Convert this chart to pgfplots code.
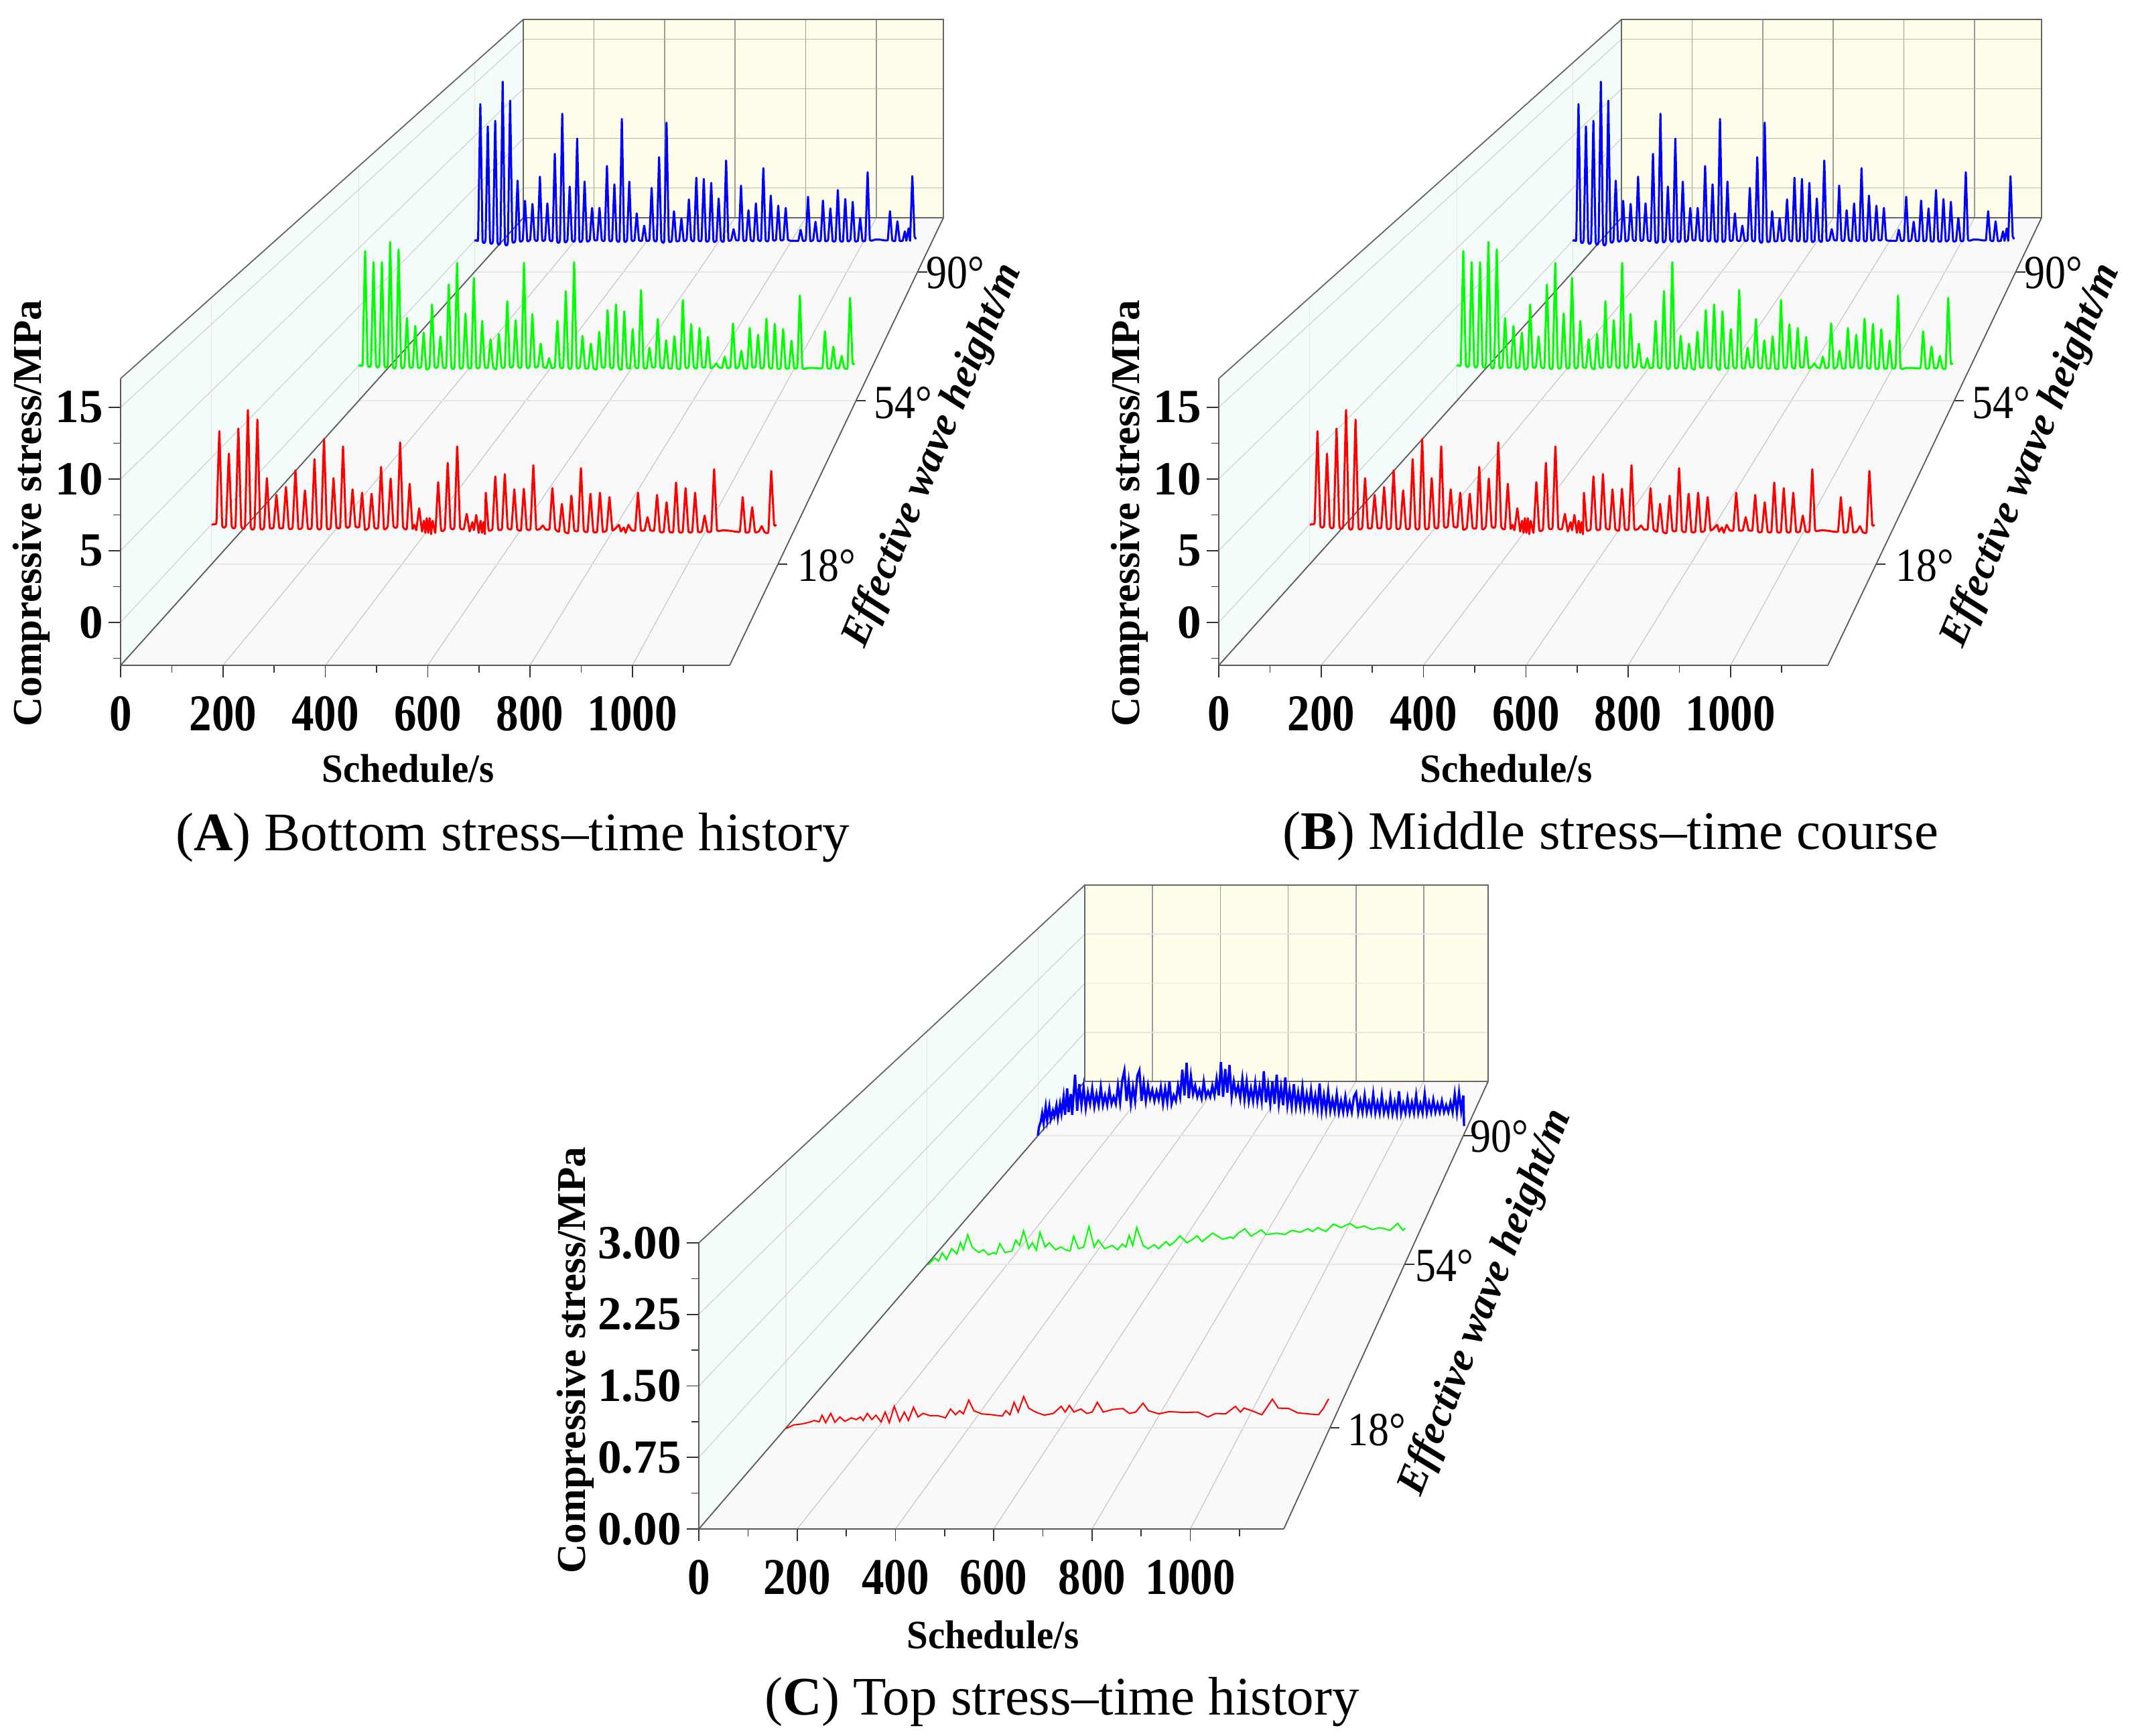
\documentclass[border=0pt]{standalone}
\usepackage{fontspec}
\setmainfont{Liberation Serif}
\newfontfamily\xtickfont[FakeStretch=0.87]{Liberation Serif}
\newfontfamily\labfont[FakeStretch=0.95]{Liberation Serif}
\usepackage{pgfplots}
\usepackage{pgfplotstable}
\pgfplotsset{compat=1.18}

\definecolor{floorc}{HTML}{F9F9F9}
\definecolor{wallc}{HTML}{F5FCFC}
\definecolor{backc}{HTML}{FEFEEA}

% panels A and B show practically the same records
\pgfplotstableread[row sep=\\]{t s\\
0 0\\5 0.05\\10 0.2\\16 7.02\\22 -0.05\\30 -0.05\\36 5.34\\42 -0.1\\50 -0.1\\56 7.22\\62 -0.1\\70 -0.1\\76 8.61\\82 -0.15\\90 -0.15\\96 7.89\\102 -0.2\\
110 -0.2\\116 3.5\\122 -0.2\\130 -0.2\\136 2.24\\142 -0.2\\150 -0.2\\156 2.83\\162 -0.25\\170 -0.2\\176 4.09\\182 -0.25\\190 -0.2\\196 2.58\\202 -0.25\\
210 -0.2\\216 4.92\\222 -0.2\\230 -0.2\\236 6.43\\242 -0.2\\250 -0.2\\256 3.5\\262 -0.15\\270 -0.15\\276 5.88\\282 -0.1\\290 -0.1\\296 2.66\\302 -0.1\\
310 -0.15\\316 2.41\\322 -0.35\\330 -0.2\\336 2.33\\342 -0.2\\350 -0.2\\356 4.34\\362 -0.3\\370 -0.1\\376 3.47\\382 -0.1\\390 -0.1\\396 6.18\\402 -0.1\\
410 -0.3\\416 3.08\\422 -0.3\\426 0\\430 -0.4\\436 1.24\\442 -0.5\\446 0.3\\449 -0.6\\452 0.5\\455 -0.6\\458 0.5\\461 -0.7\\464 0.3\\470 -0.6\\476 3.2\\482 -0.4\\
490 -0.3\\496 4.64\\502 -0.2\\510 -0.2\\516 5.88\\522 -0.2\\530 -0.3\\536 0.82\\542 -0.5\\548 0.2\\551 -0.4\\556 0.74\\561 -0.6\\565 0.3\\568 -0.6\\571 0.2\\574 -0.7\\
576 2.41\\582 -0.4\\590 -0.3\\596 3.63\\602 -0.3\\610 -0.3\\616 3.8\\622 -0.2\\630 -0.3\\636 2.66\\642 -0.3\\650 -0.4\\656 2.7\\662 -0.3\\670 -0.3\\676 4.47\\682 -0.3\\
690 -0.3\\696 -0.05\\702 -0.35\\710 -0.3\\716 2.75\\722 -0.3\\730 -0.5\\736 1.57\\742 -0.5\\750 -0.6\\756 2.19\\762 -0.4\\770 -0.4\\776 4.25\\782 -0.4\\
790 -0.5\\796 2.33\\802 -0.5\\810 -0.5\\816 2.41\\822 -0.5\\830 -0.4\\836 2.08\\842 -0.4\\848 -0.3\\856 0\\860 -0.5\\866 -0.2\\870 -0.6\\876 0\\882 -0.4\\
890 -0.4\\896 2.41\\902 -0.4\\910 -0.4\\916 0.57\\922 -0.4\\930 -0.4\\936 2.24\\942 -0.5\\950 -0.5\\956 1.69\\962 -0.5\\970 -0.5\\976 3.17\\982 -0.5\\
990 -0.5\\996 2.75\\1002 -0.5\\1010 -0.5\\1016 2.41\\1022 -0.5\\1030 -0.5\\1036 0.69\\1042 -0.5\\1050 -0.45\\1056 4.17\\1062 -0.4\\1075 -0.4\\1090 -0.45\\
1110 -0.5\\1116 2.08\\1122 -0.55\\1130 -0.5\\1136 1.32\\1142 -0.55\\1150 -0.5\\1156 -0.1\\1162 -0.55\\1170 -0.55\\1176 4.04\\1182 0\\1187 0\\
}\redAB

\pgfplotstableread[row sep=\\]{t s\\
0 0\\6 0\\10 0.15\\16 9.78\\22 0.1\\30 0.1\\36 8.83\\42 0.05\\50 0.05\\56 8.83\\62 0.05\\70 0.05\\76 10.55\\82 0\\90 0\\96 9.92\\102 -0.05\\
110 -0.05\\116 4.06\\122 -0.1\\130 -0.1\\136 3.39\\142 -0.15\\150 -0.1\\156 2.82\\162 -0.3\\170 -0.1\\176 5.21\\182 -0.1\\190 -0.1\\196 2.48\\202 -0.1\\
210 -0.1\\216 6.92\\222 -0.1\\230 -0.1\\236 8.77\\242 -0.1\\250 -0.1\\256 4.44\\262 -0.1\\270 -0.1\\276 7.49\\282 -0.1\\290 -0.1\\296 3.81\\302 -0.1\\
310 -0.15\\316 2.25\\322 -0.1\\330 -0.3\\336 2.69\\342 -0.1\\350 -0.1\\356 5.49\\362 -0.05\\370 -0.05\\376 3.87\\382 -0.05\\390 -0.05\\396 8.77\\402 -0.05\\
410 -0.05\\416 4.4\\422 -0.1\\430 -0.05\\436 1.87\\442 -0.1\\450 -0.2\\456 0.63\\462 -0.2\\470 -0.1\\476 3.81\\482 -0.1\\490 -0.1\\496 6.35\\502 -0.1\\
510 -0.1\\516 8.83\\522 -0.1\\530 -0.1\\536 2.54\\542 -0.2\\550 -0.2\\556 1.87\\562 -0.2\\570 -0.3\\576 2.88\\582 -0.1\\590 -0.1\\596 4.73\\602 -0.1\\
610 -0.1\\616 5.21\\622 -0.1\\630 -0.3\\636 4.63\\642 -0.1\\650 -0.2\\656 3.11\\662 -0.1\\670 -0.1\\676 6.45\\682 -0.1\\690 -0.2\\696 1.53\\702 -0.1\\
710 -0.1\\716 3.97\\722 -0.1\\730 -0.2\\736 2.15\\742 -0.2\\750 -0.2\\756 2.5\\762 -0.2\\770 -0.2\\776 5.59\\782 -0.1\\790 -0.1\\796 3.53\\802 -0.1\\
810 -0.2\\816 3.2\\822 -0.1\\830 -0.1\\836 2.44\\842 -0.2\\850 -0.1\\856 0.19\\862 -0.15\\870 -0.2\\876 0.76\\882 -0.2\\890 -0.1\\896 3.59\\902 -0.2\\
910 -0.1\\916 1.26\\922 -0.2\\930 -0.2\\936 3.2\\942 -0.1\\950 -0.1\\956 2.63\\962 -0.2\\970 -0.1\\976 4\\982 -0.1\\990 -0.2\\996 3.55\\1002 -0.2\\
1010 -0.2\\1016 3.11\\1022 -0.2\\1030 -0.2\\1036 2.12\\1042 -0.2\\1050 -0.1\\1056 5.97\\1062 -0.2\\1075 -0.2\\1090 -0.2\\1110 -0.2\\1116 2.92\\1122 -0.2\\
1130 -0.2\\1136 1.62\\1142 -0.2\\1150 -0.2\\1156 0.82\\1162 -0.2\\1170 -0.2\\1176 5.78\\1182 0.2\\1187 0.2\\
}\greenAB

\pgfplotstableread[row sep=\\]{t s\\
0 0\\6 0.05\\10 0.2\\16 13.1\\22 0.05\\30 0.1\\36 10.96\\42 -0.05\\50 0\\56 11.5\\62 -0.1\\70 0\\76 15.25\\82 -0.1\\90 -0.1\\96 13.43\\102 0.05\\
110 0.05\\116 5.76\\122 0\\130 0.1\\136 3.83\\142 0\\150 0.1\\156 3.53\\162 0.1\\170 0.1\\176 6.15\\182 0.1\\190 0.1\\196 3.58\\202 0.1\\
210 0.1\\216 8.33\\222 0\\230 0.1\\236 12.18\\242 0.05\\250 0.1\\256 5.18\\262 0.1\\270 0.1\\276 9.79\\282 0.05\\290 0.1\\296 5.67\\302 0\\
310 0.1\\316 3.15\\322 0.1\\330 0.1\\336 3.15\\342 0.1\\350 0.1\\356 7.17\\362 0.1\\370 0.1\\376 5.4\\382 0.1\\390 0.1\\396 11.67\\402 0.1\\
410 0.1\\416 5.67\\422 0.1\\430 0.05\\436 2.62\\442 0.05\\450 0\\456 1.44\\462 0\\470 0.1\\476 5.07\\482 0.1\\490 0.1\\496 8.01\\502 0.1\\
510 0\\516 11.33\\522 0.1\\530 0\\536 2.83\\542 0\\550 0\\556 2.12\\562 0\\570 0.1\\576 3.96\\582 0.1\\590 0.05\\596 6.04\\602 0.1\\
610 0.1\\616 5.93\\622 0\\630 0.1\\636 5.55\\642 0\\650 0\\656 4.05\\662 0.1\\670 0\\676 7.69\\682 0.1\\690 0.1\\696 1.11\\702 0.1\\
710 0.1\\716 5.29\\722 0.1\\730 0.05\\736 2.93\\742 0.1\\750 0\\756 3.58\\762 0.1\\770 0.1\\776 6.96\\782 0.1\\790 0.05\\796 4.33\\802 0.1\\
810 0.1\\816 3.36\\822 0.1\\830 0.1\\836 3.15\\842 0.1\\850 0\\860 0\\870 0\\876 1.05\\882 0\\890 0.1\\896 4.22\\902 0\\
910 0.1\\916 1.82\\922 0\\930 0.05\\936 3.85\\942 0\\950 0.1\\956 3.1\\962 0\\970 0.05\\976 4.86\\982 0.05\\990 0\\996 4\\1002 0\\
1010 0.1\\1016 3.73\\1022 0\\1030 0\\1036 2.18\\1042 0\\1050 0.1\\1056 6.57\\1062 0.1\\1075 0.1\\1090 0.1\\1110 0.05\\1116 2.83\\1122 0.05\\
1130 0\\1136 1.86\\1142 0\\1150 0\\1156 0.9\\1160 0\\1166 1.18\\1170 0\\1176 6.19\\1182 0.4\\1187 0.2\\
}\blueAB

\pgfplotstableread[row sep=\\]{t s\\
0 0\\17 0.04\\34 0.05\\51 0.07\\62 0.09\\73 0.075\\79 0.15\\87 0.065\\98 0.17\\107 0.07\\118 0.13\\129 0.08\\143 0.12\\154 0.1\\163 0.13\\169 0.09\\178 0.17\\188 0.1\\197 0.15\\208 0.075\\217 0.185\\226 0.065\\237 0.25\\249 0.08\\259 0.185\\268 0.09\\279 0.24\\289 0.13\\300 0.17\\315 0.145\\332 0.145\\349 0.12\\360 0.22\\371 0.155\\380 0.2\\388 0.165\\400 0.32\\411 0.2\\428 0.165\\450 0.155\\473 0.14\\481 0.2\\490 0.155\\499 0.295\\508 0.185\\520 0.36\\531 0.23\\546 0.185\\565 0.15\\585 0.17\\602 0.25\\611 0.185\\620 0.26\\630 0.185\\645 0.22\\658 0.17\\670 0.185\\681 0.295\\694 0.185\\715 0.215\\737 0.225\\751 0.17\\765 0.185\\781 0.285\\793 0.2\\816 0.165\\838 0.19\\872 0.18\\900 0.185\\923 0.13\\940 0.17\\962 0.165\\983 0.25\\994 0.185\\1002 0.23\\1019 0.2\\1041 0.155\\1064 0.33\\1077 0.23\\1100 0.225\\1120 0.175\\1165 0.155\\1176 0.23\\1187 0.335\\
}\redC

\pgfplotstableread[row sep=\\]{t s\\
0 0\\17 0.09\\26 0.05\\36 0.155\\46 0.07\\59 0.21\\72 0.14\\81 0.29\\88 0.195\\99 0.39\\110 0.23\\126 0.16\\138 0.195\\151 0.13\\164 0.16\\170 0.14\\179 0.275\\192 0.16\\209 0.18\\219 0.32\\228 0.25\\238 0.44\\251 0.21\\260 0.285\\270 0.19\\279 0.42\\292 0.23\\302 0.285\\318 0.195\\331 0.23\\343 0.195\\354 0.18\\363 0.37\\375 0.21\\388 0.23\\401 0.495\\414 0.23\\424 0.32\\440 0.21\\459 0.25\\472 0.195\\484 0.27\\493 0.23\\501 0.38\\510 0.25\\520 0.48\\536 0.25\\549 0.21\\564 0.26\\574 0.21\\593 0.3\\602 0.25\\615 0.3\\628 0.375\\645 0.285\\657 0.32\\670 0.375\\683 0.3\\709 0.41\\734 0.33\\754 0.36\\760 0.34\\773 0.41\\789 0.465\\805 0.37\\830 0.45\\843 0.39\\869 0.41\\888 0.39\\907 0.445\\927 0.42\\946 0.465\\958 0.43\\971 0.48\\991 0.43\\1010 0.525\\1029 0.48\\1051 0.535\\1068 0.475\\1087 0.5\\1106 0.455\\1125 0.48\\1151 0.445\\1170 0.535\\1183 0.445\\1189 0.475\\
}\greenC

\pgfplotstableread[row sep=\\]{t s\\
0 0\\3 0.12\\8 0.2\\12 0.32\\16 0.18\\22 0.42\\26 0.22\\32 0.42\\36 0.24\\42 0.36\\46 0.28\\52 0.44\\56 0.26\\62 0.46\\66 0.32\\72 0.56\\76 0.3\\82 0.68\\86 0.34\\92 0.6\\96 0.3\\104 0.88\\110 0.36\\116 0.74\\122 0.44\\128 0.7\\134 0.4\\140 0.62\\146 0.46\\152 0.68\\158 0.42\\164 0.6\\170 0.44\\176 0.7\\182 0.44\\188 0.58\\194 0.44\\200 0.66\\206 0.46\\212 0.56\\218 0.46\\224 0.72\\230 0.48\\236 0.8\\242 0.94\\248 0.5\\254 0.78\\260 0.46\\266 0.7\\272 0.5\\278 0.86\\284 0.94\\290 0.5\\296 0.76\\302 0.5\\308 0.72\\314 0.54\\320 0.66\\326 0.5\\332 0.64\\338 0.52\\344 0.7\\350 0.46\\356 0.68\\362 0.48\\368 0.78\\374 0.46\\380 0.58\\386 0.5\\392 0.72\\398 0.56\\404 0.95\\410 0.58\\416 1.05\\422 0.54\\428 0.86\\434 0.6\\440 0.72\\446 0.56\\452 0.66\\458 0.54\\464 0.78\\470 0.56\\476 0.64\\482 0.56\\488 0.72\\494 0.58\\500 0.82\\506 0.58\\512 1.06\\518 0.56\\524 0.96\\530 0.62\\536 1.02\\542 0.56\\548 0.78\\554 0.6\\560 0.72\\566 0.54\\572 0.82\\578 0.52\\584 0.78\\590 0.5\\596 0.68\\602 0.5\\608 0.76\\614 0.5\\620 0.7\\626 0.5\\632 0.93\\638 0.48\\644 0.72\\650 0.46\\656 0.78\\662 0.46\\668 0.88\\674 0.46\\680 0.7\\686 0.44\\692 0.84\\698 0.44\\704 0.66\\710 0.42\\716 0.74\\722 0.42\\728 0.62\\734 0.42\\740 0.7\\746 0.4\\752 0.6\\758 0.42\\764 0.66\\770 0.4\\776 0.58\\782 0.38\\788 0.75\\794 0.36\\800 0.58\\806 0.36\\812 0.64\\818 0.36\\824 0.52\\830 0.36\\836 0.6\\842 0.34\\848 0.5\\854 0.34\\860 0.56\\866 0.34\\872 0.48\\878 0.34\\884 0.56\\890 0.62\\896 0.34\\902 0.5\\908 0.34\\914 0.58\\920 0.34\\926 0.48\\932 0.34\\938 0.6\\944 0.33\\950 0.48\\956 0.33\\962 0.58\\968 0.33\\974 0.46\\980 0.32\\986 0.56\\992 0.32\\998 0.48\\1004 0.32\\1010 0.64\\1016 0.32\\1022 0.46\\1028 0.33\\1034 0.54\\1040 0.33\\1046 0.48\\1052 0.33\\1058 0.58\\1064 0.33\\1070 0.46\\1076 0.33\\1082 0.6\\1088 0.33\\1094 0.48\\1100 0.34\\1106 0.52\\1112 0.34\\1118 0.46\\1124 0.34\\1130 0.5\\1136 0.34\\1142 0.44\\1148 0.34\\1154 0.48\\1160 0.34\\1166 0.6\\1172 0.34\\1178 0.62\\1184 0.36\\1190 0.58\\1192 0.14\\
}\blueC

\pgfplotsset{
  every axis/.append style={scale only axis,xmin=0,xmax=1190},
  pos/.style args={#1/#2}{at={(#1*0.5pt,-#2*0.5pt)},anchor=south west},
  size/.style args={#1/#2}{width=#1*0.5pt,height=#2*0.5pt},
  trace/.style={hide axis,clip=false},
  front/.style={
    axis x line=bottom,axis y line=left,
    axis line style={-,draw=black!65,line width=1.2pt},
    tick align=outside,
    xtick={0,200,...,1000},minor xtick={100,300,...,1100},
    major tick length=9pt,minor tick length=5.5pt,
    tick style={black!80,line width=0.8pt},
    /pgf/number format/assume math mode=true,
    /pgf/number format/1000 sep={},
    xticklabel style={font=\xtickfont\bfseries\fontsize{38.5}{39}\selectfont,inner sep=0pt,yshift=-14pt},
    yticklabel style={font=\bfseries\fontsize{35.5}{36}\selectfont,inner sep=0pt,xshift=-4pt},
    xlabel={Schedule/s},ylabel={Compressive stress/MPa},
    xlabel style={font=\labfont\bfseries\fontsize{30}{31}\selectfont,anchor=center},
    ylabel style={font=\bfseries\fontsize{30.5}{31}\selectfont,anchor=center},
  },
  back/.style={
    axis background/.style={fill=backc},
    axis line style={draw=black!60,line width=1pt},
    xtick={200,400,...,1000},xticklabels={},yticklabels={},
    major tick length=0pt,grid=major,
    x grid style={black!40,line width=0.8pt},
    y grid style={black!28,line width=0.8pt},
  },
}

% ox oy w h: front floor edge and wall height; bx by bw bh: back wall; #9: heights of the wall lines as fractions
\newcommand\walls[9]{
  \begin{scope}[x=0.5pt,y=-0.5pt]
    \fill[floorc] (#1,#2) -- ({#1+#3},#2) -- ({#5+#7},#6) -- (#5,#6) -- cycle;
    \fill[wallc] (#1,#2) -- (#5,#6) -- (#5,{#6-#8}) -- (#1,{#2-#4}) -- cycle;
    \foreach \k in {200,400,600,800,1000}
      \draw[black!22,line width=0.6pt] ({#1+#3*(\k/1190)},#2) -- ({#5+#7*(\k/1190)},#6);
    \foreach \s in {0.93,0.8167,0.7276} {
      \pgfmathsetmacro\fr{(1-\s)/0.31}
      \draw[black!10,line width=1.2pt] ({#1+(#5-#1)*\fr},{#2+(#6-#2)*\fr}) -- ({#1+(#5-#1)*\fr+#3*\s},{#2+(#6-#2)*\fr});
      \draw[black!10,line width=0.6pt] ({#1+(#5-#1)*\fr},{#2+(#6-#2)*\fr}) -- ({#1+(#5-#1)*\fr},{#2+(#6-#2)*\fr-#4*\s});
      \draw[black!80,line width=0.8pt] ({#1+(#5-#1)*\fr+#3*\s},{#2+(#6-#2)*\fr}) -- ++(14,0);
    }
    \foreach \f in {#9}
      \draw[black!18,line width=0.6pt] (#1,{#2-#4*\f}) -- (#5,{#6-#8*\f});
    \draw[black!60,line width=0.9pt] (#1,{#2-#4}) -- (#5,{#6-#8});
    \draw[black!65,line width=0.9pt] (#1,#2) -- (#5,#6) ({#1+#3},#2) -- ({#5+#7},#6);
  \end{scope}
}
\newcommand\degfont{\xtickfont\fontsize{35.5}{36}\selectfont}
\newcommand\efffont{\bfseries\itshape\fontsize{31}{32}\selectfont}
\newcommand\capfont{\fontsize{40.5}{41}\selectfont}
\tikzset{peak/.style={smooth,tension=0.12,line width=1.5pt,line join=round}}

\newcommand\panelAB[1]{
  \walls{\the\numexpr180+#1\relax}{993}{909}{428}{\the\numexpr781+#1\relax}{325}{627}{296}{0.15,0.4,0.65,0.9}
  \begin{axis}[back,pos={\the\numexpr781+#1\relax/325},size={627/296},ymin=-3,ymax=17,ytick={0,5,10,15}]
  \end{axis}
  \begin{axis}[front,pos={\the\numexpr180+#1\relax/993},size={909/428},ymin=-3,ymax=17,
    ytick={0,5,10,15},minor ytick={-2.5,2.5,7.5,12.5},
    xlabel style={at={(axis description cs:0.472,-0.36)}},
    ylabel style={at={(axis description cs:-0.146,0.53)}}]
  \end{axis}
  \begin{axis}[trace,pos={\the\numexpr708+#1\relax/406},size={661.4/311.4},ymin=-3,ymax=17]
    \addplot[blue,peak] table[x=t,y=s] {\blueAB};
  \end{axis}
  \begin{axis}[trace,pos={\the\numexpr535+#1\relax/598},size={742.4/349.5},ymin=-3,ymax=17]
    \addplot[green,peak] table[x=t,y=s] {\greenAB};
  \end{axis}
  \begin{axis}[trace,pos={\the\numexpr316+#1\relax/843},size={845/398},ymin=-3,ymax=17]
    \addplot[red,peak] table[x=t,y=s] {\redAB};
  \end{axis}
  \begin{scope}[x=0.5pt,y=-0.5pt]
    \node[font=\degfont] at (\the\numexpr1234+#1\relax,844) {18°};
    \node[font=\degfont] at (\the\numexpr1348+#1\relax,601) {54°};
    \node[font=\degfont] at (\the\numexpr1426+#1\relax,407) {90°};
    \node[font=\efffont,rotate=67.5] at (\the\numexpr1393+#1\relax,680) {Effective wave height/m};
  \end{scope}
}

\begin{document}
\begin{tikzpicture}
\path[use as bounding box] (0,0) rectangle (1591pt,-1295.5pt);

\panelAB{0}
\panelAB{1639}

\walls{1043}{2282}{873}{427}{1619}{1614}{602}{293}{0.25,0.5,0.75}
\begin{axis}[back,pos={1619/1614},size={602/293},ymin=0,ymax=3,ytick={0.75,1.5,2.25},
  y grid style={black!10,line width=0.8pt}]
\end{axis}
\begin{axis}[front,pos={1043/2282},size={873/427},ymin=0,ymax=3,
  ytick={0,0.75,1.5,2.25,3},minor ytick={0.375,1.125,1.875,2.625},
  yticklabel style={/pgf/number format/fixed,/pgf/number format/fixed zerofill,/pgf/number format/precision=2},
  xlabel style={at={(axis description cs:0.503,-0.37)}},
  ylabel style={at={(axis description cs:-0.211,0.59)}}]
\end{axis}
\begin{axis}[trace,pos={1549/1695},size={635/310.7},ymin=0,ymax=3]
  \addplot[blue,line width=1.7pt] table[x=t,y=s] {\blueC};
\end{axis}
\begin{axis}[trace,pos={1385/1888},size={713/348.7},ymin=0,ymax=3]
  \addplot[green,line width=1pt] table[x=t,y=s] {\greenC};
\end{axis}
\begin{axis}[trace,pos={1173/2132},size={812/397},ymin=0,ymax=3]
  \addplot[red,line width=1pt] table[x=t,y=s] {\redC};
\end{axis}

\begin{scope}[x=0.5pt,y=-0.5pt]
  \node[font=\degfont] at (2055,2134) {18°};
  \node[font=\degfont] at (2156,1889) {54°};
  \node[font=\degfont] at (2238,1696) {90°};
  \node[font=\efffont,rotate=68.5] at (2218,1944) {Effective wave height/m};
  \node[font=\capfont] at (765,1250) {(\textbf{A}) Bottom stress–time history};
  \node[font=\capfont] at (2404,1248) {(\textbf{B}) Middle stress–time course};
  \node[font=\capfont] at (1585,2540) {(\textbf{C}) Top stress–time history};
\end{scope}
\end{tikzpicture}
\end{document}
